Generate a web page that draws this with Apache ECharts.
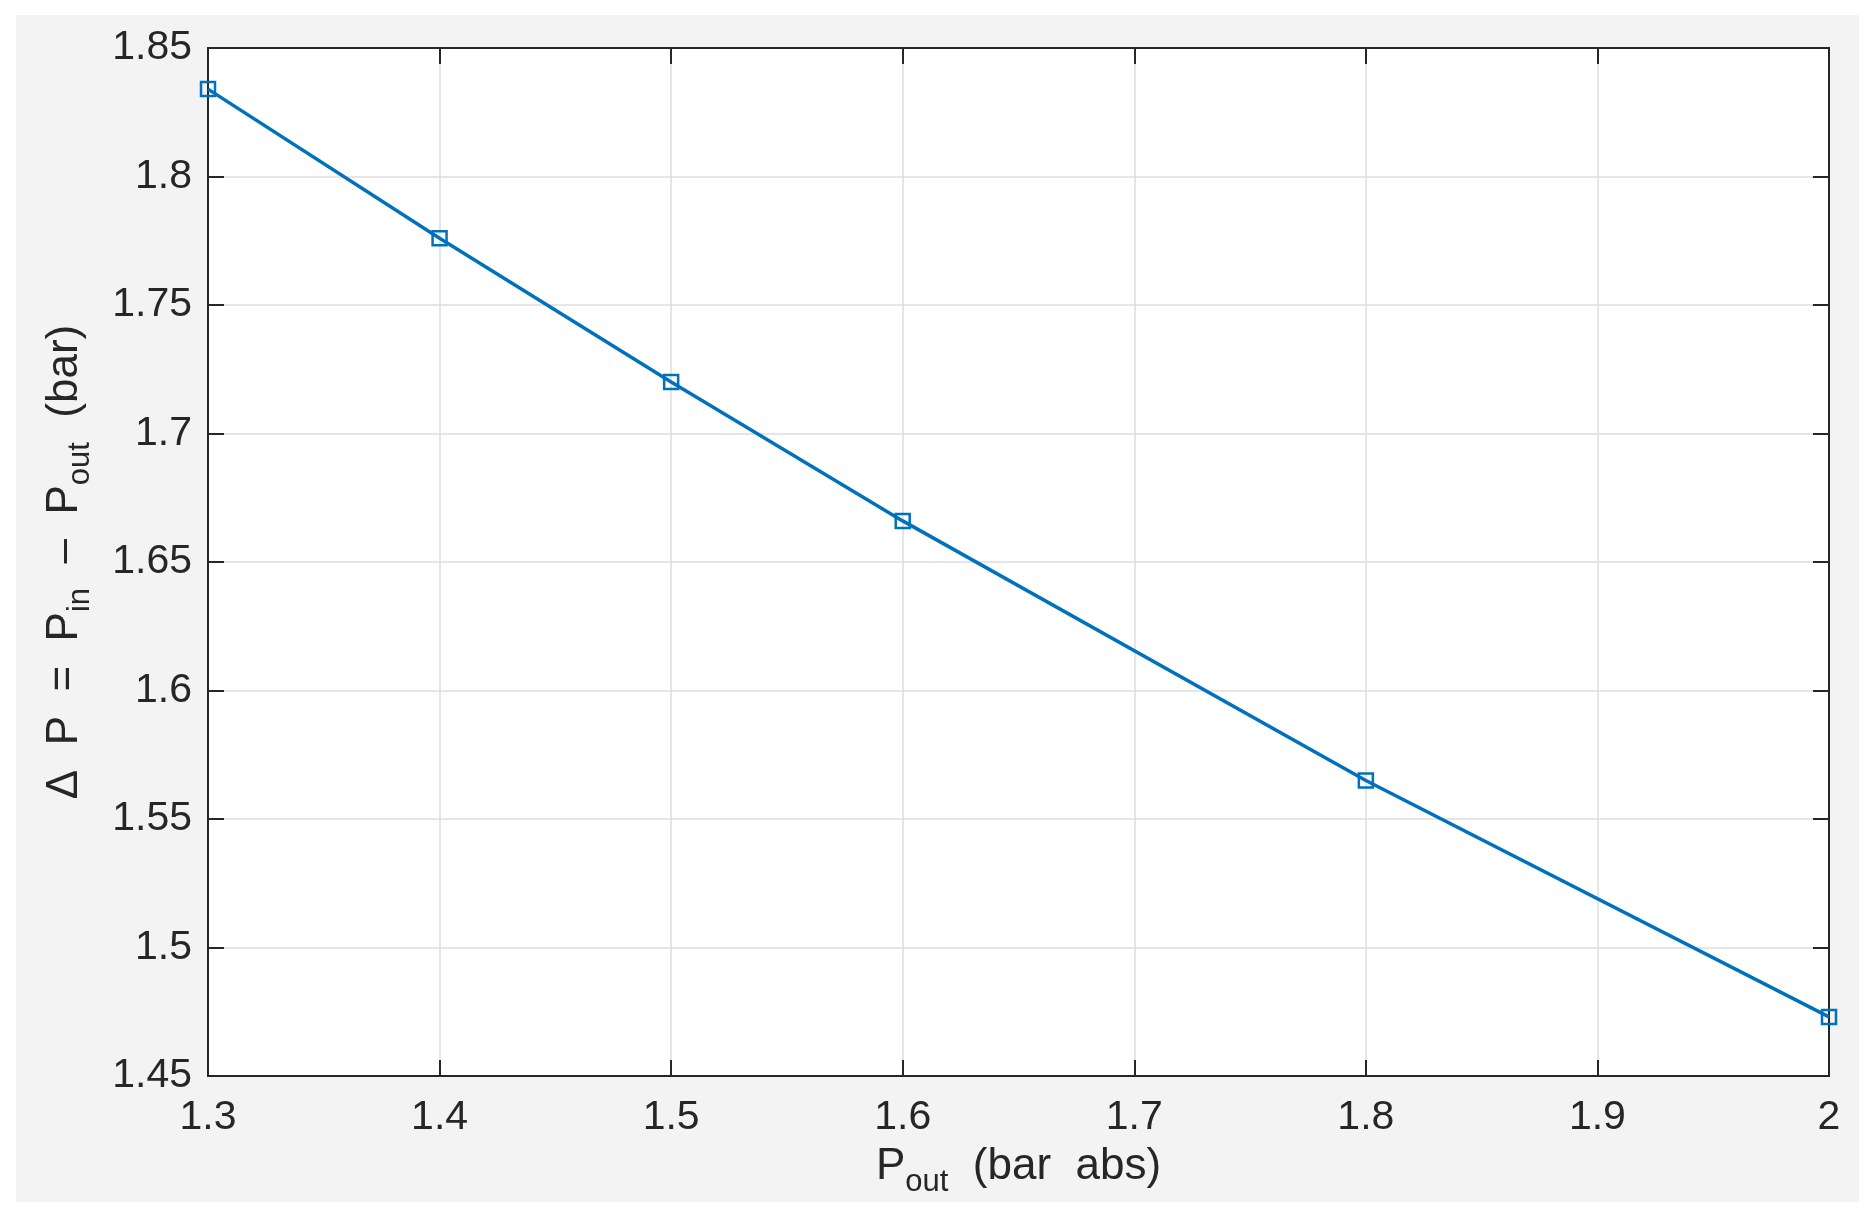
<!DOCTYPE html>
<html>
<head>
<meta charset="utf-8">
<script src="https://cdn.jsdelivr.net/npm/echarts@6/dist/echarts.min.js"></script>
<style>
  html, body { margin: 0; padding: 0; background: #fff; }
  #chart {
    position: absolute;
    left: 16px;
    top: 15px;
    width: 1843px;
    height: 1187px;
    background: #f3f3f3;
  }
</style>
</head>
<body>
<div id="chart"></div>
<script>
// P_out (bar abs) and pressure drop (bar)
const pOut = [1.3, 1.4, 1.5, 1.6, 1.8, 2.0];
const deltaP = [1.834, 1.776, 1.720, 1.666, 1.565, 1.473];

const lineColor = "#0072bd";
const axisColor = "#262626";
const font = "'Liberation Sans', Arial, sans-serif";

let chartDom = document.getElementById("chart");
let myChart = echarts.init(chartDom);

let nameRich = {
  n: { fontSize: 44, color: axisColor, fontFamily: font, lineHeight: 66, verticalAlign: "middle" },
  s: { fontSize: 31, color: axisColor, fontFamily: font, lineHeight: 66, verticalAlign: "bottom", padding: [0, 0, 2, 0] },
};

let tickStyle = { inside: true, length: 16, lineStyle: { color: axisColor, width: 2 } };

let option = {
  animation: false,
  grid: {
    left: 192,
    right: 30,
    top: 33,
    bottom: 126,
    outerBoundsMode: "none",
    show: true,
    backgroundColor: "#fff",
    borderColor: axisColor,
    borderWidth: 2,
  },
  xAxis: [
    {
      type: "value",
      min: 1.3,
      max: 2,
      interval: 0.1,
      name: "{n|P}{s|out}{n|  (bar  abs)}",
      nameLocation: "middle",
      nameGap: 58,
      nameTextStyle: { rich: nameRich },
      axisLine: { show: true, lineStyle: { color: axisColor, width: 2 } },
      axisTick: tickStyle,
      axisLabel: { fontSize: 41, color: axisColor, fontFamily: font, margin: 21 },
      splitLine: { show: true, lineStyle: { color: "#dedede", width: 1.5 } },
    },
    {
      type: "value",
      position: "top",
      min: 1.3,
      max: 2,
      interval: 0.1,
      axisLine: { show: true, lineStyle: { color: axisColor, width: 2 } },
      axisTick: tickStyle,
      axisLabel: { show: false },
      splitLine: { show: false },
    },
  ],
  yAxis: [
    {
      type: "value",
      min: 1.45,
      max: 1.85,
      interval: 0.05,
      name: "{n|Δ  P  =  P}{s|in}{n|  –  P}{s|out}{n|  (bar)}",
      nameLocation: "middle",
      nameRotate: 90,
      nameGap: 110,
      nameTextStyle: { rich: nameRich },
      axisLine: { show: true, lineStyle: { color: axisColor, width: 2 } },
      axisTick: tickStyle,
      axisLabel: { fontSize: 41, color: axisColor, fontFamily: font, margin: 16 },
      splitLine: { show: true, lineStyle: { color: "#dedede", width: 1.5 } },
    },
    {
      type: "value",
      position: "right",
      min: 1.45,
      max: 1.85,
      interval: 0.05,
      axisLine: { show: true, lineStyle: { color: axisColor, width: 2 } },
      axisTick: tickStyle,
      axisLabel: { show: false },
      splitLine: { show: false },
    },
  ],
  series: [
    {
      type: "line",
      data: pOut.map((x, i) => [x, deltaP[i]]),
      symbol: "rect",
      symbolSize: 14,
      itemStyle: { color: "rgba(255,255,255,0)", borderColor: lineColor, borderWidth: 2.5 },
      lineStyle: { color: lineColor, width: 3.5 },
      z: 5,
    },
  ],
};

option && myChart.setOption(option);
</script>
</body>
</html>
